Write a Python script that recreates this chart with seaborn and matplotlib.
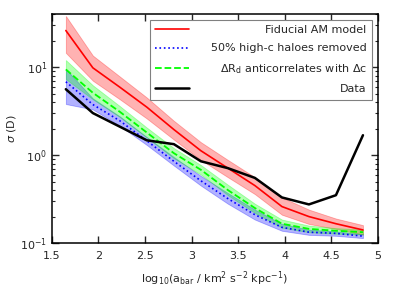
import numpy as np
import pandas as pd
import matplotlib
matplotlib.use('Agg')
import matplotlib.pyplot as plt
import seaborn as sns

# log10 of baryonic acceleration bins
log_abar = [1.65, 1.94, 2.23, 2.52, 2.81, 3.10, 3.39, 3.68, 3.97, 4.26, 4.55, 4.84]

# fiducial AM model (mean, upper, lower)
fid_mid = [26, 9.8, 5.9, 3.5, 1.95, 1.12, 0.71, 0.45, 0.26, 0.20, 0.166, 0.141]
fid_hi = [38, 13.5, 7.8, 4.5, 2.45, 1.40, 0.88, 0.56, 0.33, 0.24, 0.19, 0.16]
fid_lo = [14.5, 7.0, 4.3, 2.6, 1.5, 0.88, 0.56, 0.36, 0.21, 0.165, 0.145, 0.125]

# 50% high-c haloes removed
hic_mid = [6.8, 3.75, 2.45, 1.45, 0.85, 0.51, 0.32, 0.21, 0.151, 0.133, 0.129, 0.12]
hic_hi = [9.5, 4.4, 2.75, 1.6, 0.95, 0.58, 0.37, 0.24, 0.165, 0.142, 0.136, 0.126]
hic_lo = [3.8, 3.3, 2.15, 1.3, 0.76, 0.45, 0.28, 0.185, 0.138, 0.124, 0.121, 0.114]

# delta R_d anticorrelates with delta c
anti_mid = [9.4, 5.1, 3.1, 1.8, 1.05, 0.68, 0.40, 0.25, 0.166, 0.145, 0.138, 0.133]
anti_hi = [12.0, 6.2, 3.6, 2.05, 1.2, 0.77, 0.46, 0.28, 0.185, 0.158, 0.148, 0.142]
anti_lo = [7.3, 4.3, 2.7, 1.58, 0.92, 0.60, 0.35, 0.22, 0.150, 0.133, 0.128, 0.125]

# observed scatter
data_sig = [5.6, 3.0, 2.1, 1.47, 1.33, 0.85, 0.71, 0.55, 0.33, 0.275, 0.35, 1.68]

sns.set_style('ticks')
plt.rcParams['font.family'] = ['DejaVu Sans']
plt.rcParams['font.size'] = 8

df = pd.DataFrame({'x': log_abar, 'fid': fid_mid, 'hic': hic_mid,
                   'anti': anti_mid, 'data': data_sig})

fig = plt.figure(figsize=(3.99, 2.99), dpi=100)
ax = fig.add_axes([0.130, 0.187, 0.817, 0.766])

ax.fill_between(log_abar, fid_lo, fid_hi, facecolor='red', edgecolor='red', alpha=0.3, lw=0.6)
ax.fill_between(log_abar, hic_lo, hic_hi, facecolor='blue', edgecolor='blue', alpha=0.3, lw=0.6)
ax.fill_between(log_abar, anti_lo, anti_hi, facecolor='lime', edgecolor='lime', alpha=0.3, lw=0.6)

sns.lineplot(data=df, x='x', y='fid', ax=ax, color='red', lw=1.2, label='Fiducial AM model')
sns.lineplot(data=df, x='x', y='hic', ax=ax, color='blue', lw=1.2, linestyle=':',
             label='50% high-c haloes removed')
sns.lineplot(data=df, x='x', y='anti', ax=ax, color='lime', lw=1.3, linestyle='--',
             label=r'$\Delta$R$_\mathrm{d}$ anticorrelates with $\Delta$c')
sns.lineplot(data=df, x='x', y='data', ax=ax, color='black', lw=1.8, label='Data')

ax.set_yscale('log')
ax.set_xlim(1.5, 5)
ax.set_ylim(0.1, 40)
ax.set_xticks([1.5, 2, 2.5, 3, 3.5, 4, 4.5, 5])
ax.set_xticklabels(['1.5', '2', '2.5', '3', '3.5', '4', '4.5', '5'])
ax.tick_params(which='both', direction='in', top=True, right=True, labelsize=8)
ax.tick_params(which='major', length=5, width=1)
ax.tick_params(which='minor', length=2.5, width=0.8)
ax.tick_params(axis='x', pad=6)
for s in ax.spines.values():
    s.set_linewidth(1.1)
    s.set_color('black')

ax.set_xlabel(r'log$_{10}$(a$_\mathrm{bar}$ / km$^2$ s$^{-2}$ kpc$^{-1}$)', fontsize=8,
              labelpad=6)
ax.set_ylabel(r'$\sigma$ (D)', fontsize=8)
ax.yaxis.set_label_coords(-0.105, 0.5)

leg = ax.legend(loc='upper right', fontsize=8, frameon=True, fancybox=False,
                edgecolor='gray', framealpha=1, handlelength=3.0,
                labelspacing=0.75, borderpad=0.5, handletextpad=2.0)
leg.get_frame().set_linewidth(0.8)

# right-align legend labels
fig.canvas.draw()
widths = [t.get_window_extent().width for t in leg.get_texts()]
wmax = max(widths)
for t, w in zip(leg.get_texts(), widths):
    t.set_position((wmax - w, 0))

fig.savefig('out.png', dpi=100)
